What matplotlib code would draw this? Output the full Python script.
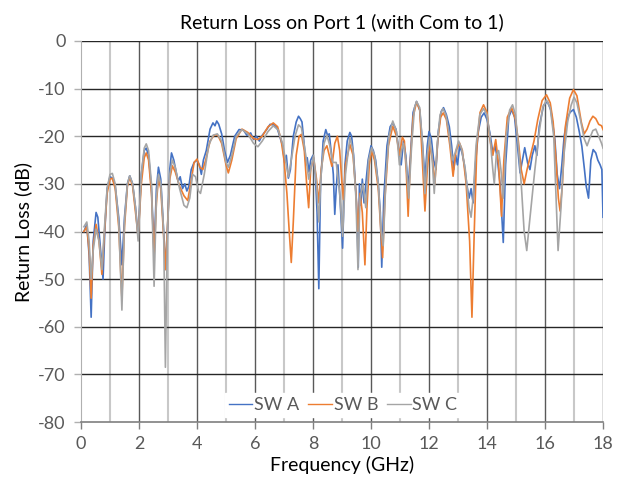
import matplotlib
matplotlib.use("Agg")
import matplotlib.pyplot as plt

plt.rcParams['font.family'] = ['Lato', 'DejaVu Sans']
plt.rcParams['axes.unicode_minus'] = False

# SW A (blue)
fa = [0.10, 0.20, 0.28, 0.35, 0.42, 0.52, 0.58, 0.65, 0.76, 0.82, 0.90, 1.00, 1.08, 1.18, 1.30, 1.41, 1.50,
      1.60, 1.68, 1.78, 1.88, 1.97, 2.08, 2.18, 2.25, 2.33, 2.43, 2.52, 2.60, 2.67, 2.75, 2.85, 2.93, 3.00,
      3.06, 3.12, 3.20, 3.28, 3.35, 3.42, 3.50, 3.58, 3.65, 3.72, 3.80, 3.90, 4.00, 4.08, 4.15, 4.22, 4.32,
      4.45, 4.55, 4.62, 4.68, 4.75, 4.85, 4.95, 5.05, 5.15, 5.30, 5.45, 5.60, 5.72, 5.85, 5.95, 6.05, 6.15,
      6.25, 6.40, 6.52, 6.63, 6.75, 6.85, 6.95, 7.02, 7.08, 7.15, 7.22, 7.32, 7.42, 7.50, 7.56, 7.62, 7.70,
      7.76, 7.80, 7.86, 7.92, 8.00, 8.08, 8.14, 8.20, 8.26, 8.35, 8.44, 8.50, 8.56, 8.64, 8.70, 8.75, 8.80,
      8.86, 8.93, 9.02, 9.10, 9.18, 9.27, 9.33, 9.40, 9.46, 9.50, 9.56, 9.60, 9.65, 9.70, 9.76, 9.82, 9.90,
      10.00, 10.08, 10.16, 10.25, 10.32, 10.37, 10.44, 10.55, 10.66, 10.75, 10.86, 10.96, 11.04, 11.12,
      11.20, 11.28, 11.36, 11.45, 11.57, 11.68, 11.78, 11.86, 11.94, 12.00, 12.08, 12.16, 12.24, 12.32,
      12.42, 12.50, 12.60, 12.70, 12.78, 12.85, 12.92, 12.98, 13.06, 13.14, 13.22, 13.30, 13.38, 13.45,
      13.52, 13.60, 13.70, 13.80, 13.90, 14.00, 14.10, 14.20, 14.28, 14.36, 14.45, 14.56, 14.64, 14.75,
      14.85, 14.95, 15.05, 15.14, 15.22, 15.30, 15.40, 15.48, 15.56, 15.65, 15.72, 15.80, 15.95, 16.08,
      16.20, 16.34, 16.42, 16.50, 16.58, 16.66, 16.76, 16.86, 16.98, 17.08, 17.18, 17.27, 17.36, 17.42,
      17.50, 17.58, 17.66, 17.75, 17.82, 17.90, 17.96, 18.00]
ya = [-40, -38.5, -45, -58, -42, -36, -37, -42, -50, -40, -31, -28.5, -28.8, -30.5, -37, -47, -37,
      -30, -28.3, -30, -35, -41, -28, -23, -22.5, -24, -31, -44, -31, -26.5, -29, -40, -48, -37,
      -27, -23.5, -25, -27.5, -29.5, -28.5, -31, -30, -31.5, -30.5, -27, -25.5, -25, -26, -28, -25, -23,
      -18.5, -17.2, -17.8, -16.8, -17.5, -19.5, -23, -25.5, -24, -20, -18.6, -18.7, -19.8, -19.3, -20.7, -20, -21,
      -19.8, -18.6, -17.5, -17.6, -18, -20, -22, -25.5, -24, -28.8, -27, -20, -17, -15.8, -16.3, -17, -22,
      -26, -24.5, -27.5, -25, -24, -28, -36, -52, -30, -21, -18.6, -19.8, -19.5, -24, -28, -36.4, -31,
      -26, -33, -43.5, -26, -21, -19.2, -20, -24, -30, -34, -47.5, -30, -34.5, -29, -34, -30, -25,
      -22, -23, -25, -30, -36, -47.5, -33, -22, -18, -17.2, -18.5, -23, -26, -21,
      -24, -31, -24, -15, -12.7, -14.5, -22, -29, -22, -19, -20.5, -25, -27, -19,
      -14.8, -14, -15.5, -18, -22, -27, -24, -26, -22, -23.5, -26, -30, -33, -31,
      -34, -26, -19, -16, -15.1, -16.5, -19.3, -23.5, -22, -25, -30, -42.3, -26, -16,
      -14.4, -16, -22, -27.7, -25, -22.4, -25.6, -27, -24, -22, -24, -18, -13.5, -12.7,
      -14.5, -20.7, -28, -31, -26, -20, -16.5, -15, -14.4, -16, -19, -22.1, -27, -30.5,
      -33, -25, -22.8, -23.5, -25, -26, -27, -37]

# SW B (orange)
fb = [0.10, 0.20, 0.28, 0.35, 0.42, 0.52, 0.62, 0.72, 0.80, 0.90, 1.00, 1.08, 1.18, 1.30, 1.41, 1.50, 1.60,
      1.68, 1.78, 1.88, 1.97, 2.08, 2.18, 2.25, 2.33, 2.43, 2.52, 2.60, 2.67, 2.75, 2.85, 2.91, 2.98, 3.06,
      3.15, 3.25, 3.40, 3.55, 3.68, 3.78, 3.90, 4.00, 4.10, 4.20, 4.30, 4.45, 4.60, 4.72, 4.85, 5.00, 5.08,
      5.20, 5.35, 5.55, 5.75, 5.95, 6.10, 6.25, 6.45, 6.63, 6.78, 6.90, 7.00, 7.10, 7.18, 7.25, 7.32, 7.42,
      7.52, 7.60, 7.70, 7.78, 7.85, 7.92, 8.02, 8.12, 8.20, 8.28, 8.38, 8.48, 8.56, 8.65, 8.75, 8.84, 8.92,
      9.00, 9.05, 9.12, 9.27, 9.38, 9.48, 9.55, 9.62, 9.70, 9.79, 9.86, 9.94, 10.02, 10.12, 10.25, 10.35,
      10.40, 10.48, 10.60, 10.75, 10.88, 10.98, 11.08, 11.15, 11.22, 11.28, 11.35, 11.45, 11.57, 11.68,
      11.76, 11.86, 11.94, 12.02, 12.12, 12.20, 12.30, 12.40, 12.49, 12.60, 12.72, 12.83, 12.93, 13.05,
      13.15, 13.28, 13.40, 13.48, 13.56, 13.65, 13.76, 13.88, 14.00, 14.10, 14.20, 14.30, 14.40, 14.50,
      14.58, 14.70, 14.85, 14.98, 15.08, 15.18, 15.28, 15.38, 15.50, 15.62, 15.75, 15.90, 16.05, 16.18,
      16.28, 16.38, 16.46, 16.52, 16.60, 16.70, 16.85, 16.98, 17.10, 17.25, 17.35, 17.45, 17.55, 17.65,
      17.75, 17.85, 17.95, 18.00]
yb = [-40, -39, -44, -54, -43, -38.5, -42, -49, -41, -32, -29, -28.8, -31, -39, -54, -39, -30.5,
      -28.6, -30.5, -36, -41, -30, -24.5, -23.5, -25, -32, -45, -34, -28.8, -31, -41, -48, -39, -29,
      -26.2, -27.5, -30.5, -32.5, -33.5, -30, -25.5, -24.8, -26.5, -27, -25, -21, -19.7, -19.8, -21.5, -26, -27.7,
      -25, -20.5, -18.5, -19.2, -20.5, -20.7, -20, -18, -17.2, -18, -20.8, -25, -32, -40, -46.5, -38, -24,
      -20, -19.6, -23, -30, -35, -27, -24.5, -29, -34, -27, -23, -22, -24, -26.3, -21.5, -20, -23,
      -30, -33.3, -26, -21.7, -24, -32, -40, -32, -36, -47, -35, -26, -23.1, -25, -31, -41,
      -45.5, -33, -22, -17.9, -20, -24, -20.2, -21, -28, -36.8, -26, -16, -12.8, -14.5,
      -24, -35.7, -27, -21.7, -25, -30, -21, -16, -15.1, -16.5, -22, -28.4, -23, -21.4,
      -23, -30, -42, -58, -40, -22, -15, -13.4, -15, -20.7, -24, -20.7, -26, -36.8,
      -25, -16, -14, -16.5, -21, -27, -30, -27, -24, -21, -16.5, -12.5, -11.3, -13,
      -17, -25, -33, -35.7, -30, -18, -12, -10.2, -11.5, -17, -19.5, -18.5, -16.8, -15.8,
      -16.3, -17.5, -17.8, -18.6]

# SW C (gray)
fc = [0.10, 0.20, 0.28, 0.35, 0.42, 0.52, 0.62, 0.72, 0.80, 0.90, 1.00, 1.08, 1.18, 1.30, 1.41, 1.50, 1.60,
      1.68, 1.78, 1.88, 1.97, 2.08, 2.18, 2.25, 2.33, 2.43, 2.52, 2.60, 2.67, 2.75, 2.85, 2.91, 2.98, 3.06,
      3.15, 3.25, 3.40, 3.55, 3.65, 3.75, 3.85, 3.95, 4.05, 4.12, 4.25, 4.40, 4.55, 4.70, 4.85, 5.00, 5.08,
      5.20, 5.35, 5.55, 5.75, 5.95, 6.10, 6.25, 6.45, 6.63, 6.80, 6.95, 7.05, 7.15, 7.25, 7.38, 7.50, 7.60,
      7.75, 7.85, 7.92, 8.02, 8.12, 8.20, 8.28, 8.38, 8.48, 8.58, 8.68, 8.80, 8.92, 9.02, 9.12, 9.27, 9.38,
      9.48, 9.55, 9.62, 9.72, 9.82, 9.92, 10.02, 10.12, 10.25, 10.35, 10.42, 10.52, 10.62, 10.75, 10.88,
      10.98, 11.05, 11.12, 11.20, 11.30, 11.40, 11.50, 11.57, 11.68, 11.78, 11.86, 11.94, 12.02, 12.10,
      12.18, 12.28, 12.38, 12.48, 12.58, 12.68, 12.80, 12.90, 13.02, 13.12, 13.25, 13.38, 13.45, 13.52,
      13.62, 13.75, 13.88, 14.00, 14.10, 14.20, 14.25, 14.32, 14.40, 14.48, 14.56, 14.66, 14.78, 14.88,
      14.98, 15.08, 15.18, 15.28, 15.37, 15.45, 15.55, 15.65, 15.78, 15.92, 16.05, 16.18, 16.30, 16.38,
      16.45, 16.55, 16.65, 16.78, 16.90, 17.00, 17.10, 17.22, 17.35, 17.45, 17.55, 17.65, 17.75, 17.85,
      17.95, 18.00]
yc = [-39, -38, -42, -50, -44, -39.5, -42, -48, -40, -31, -28, -27.8, -30, -38, -56.5, -38, -30,
      -28.3, -30, -35, -42, -28, -22.5, -21.6, -23, -30, -51.5, -33, -28, -30, -40, -68.5, -40, -28,
      -25, -26.5, -31, -34.5, -35, -33, -28, -28.5, -31.5, -32, -28, -22, -19.8, -19.5, -21, -25.5, -26.5,
      -24, -20, -18.6, -19.5, -21.5, -22.2, -21, -19, -17.8, -18.7, -21.5, -25, -28.5, -25, -20, -17.6, -18.2,
      -24, -29, -27, -24, -30, -38, -28, -21.5, -19.8, -22, -25.5, -25.5, -32, -41, -28, -20.3, -23,
      -33, -48, -33, -30, -35, -25, -22.4, -24, -30, -40, -43, -28, -20, -16.8, -19,
      -26, -23, -21.5, -25, -33, -22, -14, -12.7, -14, -22, -32, -24, -20.2, -24,
      -32, -22, -15.5, -14.2, -15.5, -19, -25, -23.5, -21, -22.5, -27, -35, -37, -33,
      -22, -15.5, -14.2, -15.5, -20, -27, -30, -24, -23, -27, -33, -20, -14.5, -13.4,
      -15.5, -22, -30, -40, -44, -39, -33, -27, -20, -14, -12.4, -14, -20, -33,
      -44, -35, -24, -17, -13.5, -11.8, -13, -16.5, -20.5, -22, -20.3, -18.8, -18.5, -20,
      -21.5, -22.5]

series = [("SW A", fa, ya, '#4472C4'), ("SW B", fb, yb, '#ED7D31'), ("SW C", fc, yc, '#A5A5A5')]

fig = plt.figure(figsize=(6.26, 4.8), dpi=100)
ax = fig.add_axes([0.1294, 0.1208, 0.8339, 0.7938])

for x in range(1, 19):
    if x % 2 == 0:
        ax.axvline(x, color='#595959', lw=1.0, zorder=0)
    else:
        ax.axvline(x, color='#c8c8c8', lw=1.5, zorder=0)
for y in range(-70, 1, 10):
    ax.axhline(y, color='#262626', lw=1.0, zorder=0)

for name, f, v, c in series:
    ax.plot(f, v, color=c, lw=1.2, label=name, zorder=2)

ax.set_xlim(0, 18)
ax.set_ylim(-80, 0)
ax.set_xticks(range(0, 19, 2))
ax.set_yticks(range(-80, 1, 10))
for s in ['top', 'right']:
    ax.spines[s].set_visible(False)
ax.spines['left'].set_color('#b0b0b0')
ax.spines['bottom'].set_color('#7f7f7f')
ax.spines['bottom'].set_linewidth(1.2)
ax.tick_params(axis='y', colors='#b0b0b0', labelcolor='#595959', labelsize=13, length=5, width=1, pad=6)
ax.tick_params(axis='x', colors='#7f7f7f', labelcolor='#595959', labelsize=13, length=5, width=1, pad=5)

ax.set_title("Return Loss on Port 1 (with Com to 1)", fontsize=14, color='black', pad=9)
ax.set_xlabel("Frequency (GHz)", fontsize=14, color='black', labelpad=3)
ax.set_ylabel("Return Loss (dB)", fontsize=14, color='black', labelpad=4)

leg = ax.legend(loc='lower center', bbox_to_anchor=(0.502, 0.0), ncol=3, frameon=True,
                fontsize=13, handlelength=1.3, handletextpad=0.1, columnspacing=0.5,
                borderpad=0.2, borderaxespad=0.3, fancybox=False)
leg.get_frame().set_facecolor('white')
leg.get_frame().set_edgecolor('white')
leg.get_frame().set_alpha(1)
for t in leg.get_texts():
    t.set_color('#595959')
for l in leg.get_lines():
    l.set_linewidth(1.0)

fig.savefig("out.png", dpi=100)
